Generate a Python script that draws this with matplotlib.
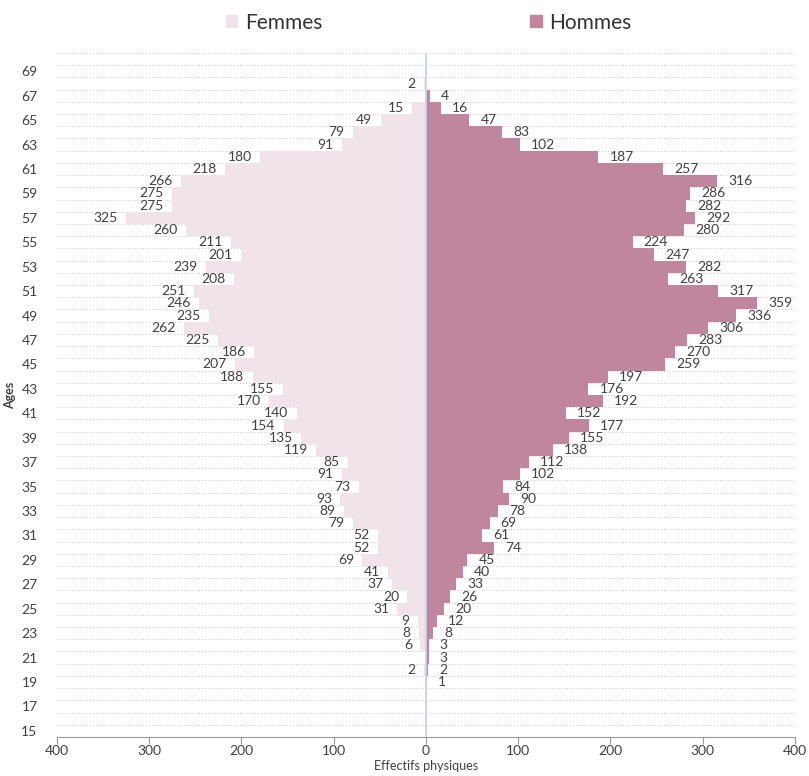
import numpy as np
import matplotlib
matplotlib.use("Agg")
import matplotlib.pyplot as plt
import matplotlib.patches as mpatches
from matplotlib.ticker import FixedLocator, FuncFormatter

plt.rcParams['font.family'] = ['Lato', 'DejaVu Sans']

ages = list(range(15, 70))

# headcount per age (0 = no bar)
femmes_by_age = {
    20: 2, 22: 6, 23: 8, 24: 9, 25: 31, 26: 20, 27: 37, 28: 41, 29: 69,
    30: 52, 31: 52, 32: 79, 33: 89, 34: 93, 35: 73, 36: 91, 37: 85,
    38: 119, 39: 135, 40: 154, 41: 140, 42: 170, 43: 155, 44: 188,
    45: 207, 46: 186, 47: 225, 48: 262, 49: 235, 50: 246, 51: 251,
    52: 208, 53: 239, 54: 201, 55: 211, 56: 260, 57: 325, 58: 275,
    59: 275, 60: 266, 61: 218, 62: 180, 63: 91, 64: 79, 65: 49,
    66: 15, 68: 2,
}
hommes_by_age = {
    19: 1, 20: 2, 21: 3, 22: 3, 23: 8, 24: 12, 25: 20, 26: 26, 27: 33,
    28: 40, 29: 45, 30: 74, 31: 61, 32: 69, 33: 78, 34: 90, 35: 84,
    36: 102, 37: 112, 38: 138, 39: 155, 40: 177, 41: 152, 42: 192,
    43: 176, 44: 197, 45: 259, 46: 270, 47: 283, 48: 306, 49: 336,
    50: 359, 51: 317, 52: 263, 53: 282, 54: 247, 55: 224, 56: 280,
    57: 292, 58: 282, 59: 286, 60: 316, 61: 257, 62: 187, 63: 102,
    64: 83, 65: 47, 66: 16, 67: 4,
}
femmes = np.array([femmes_by_age.get(a, 0) for a in ages])
hommes = np.array([hommes_by_age.get(a, 0) for a in ages])

c_f = '#F0E4EA'
c_h = '#C0869E'
txt = '#404040'

fig = plt.figure(figsize=(8.09, 7.76), dpi=100)
ax = fig.add_axes([0.0705, 0.0503, 0.912, 0.8814])

ax.barh(ages, -femmes, height=1.0, color=c_f, zorder=2)
ax.barh(ages, hommes, height=1.0, color=c_h, zorder=2)
ax.axvline(0, color='#c9d2ea', lw=1.3, zorder=3)

for a, f, h in zip(ages, femmes, hommes):
    if f > 0:
        ax.annotate(str(f), (-f, a), xytext=(-6, 0), textcoords='offset points',
                    ha='right', va='center', fontsize=10, color=txt, zorder=4)
    if h > 0:
        ax.annotate(str(h), (h, a), xytext=(8, 0), textcoords='offset points',
                    ha='left', va='center', fontsize=10, color=txt, zorder=4)

ax.set_xlim(-400, 400)
ax.set_ylim(14.5, 70.5)
ax.set_xticks(np.arange(-400, 401, 100))
ax.xaxis.set_major_formatter(FuncFormatter(lambda v, p: f"{abs(int(v))}"))
ax.set_yticks(np.arange(15, 70, 2))
ax.yaxis.set_minor_locator(FixedLocator(np.arange(15.5, 70.6, 1)))
ax.grid(which='minor', axis='y', color='#cfcfcf', linestyle=':', lw=0.8, zorder=0)
ax.tick_params(axis='y', which='both', length=0, labelsize=10, labelcolor=txt, pad=14)
ax.tick_params(axis='x', length=5, color='#999999', labelsize=10, labelcolor=txt, pad=1)

for s in ['top', 'right', 'left']:
    ax.spines[s].set_visible(False)
ax.spines['bottom'].set_color('#999999')

ax.set_xlabel("Effectifs physiques", fontsize=9, color=txt, labelpad=2)
ax.set_ylabel("Ages", fontsize=9, color=txt, fontweight='bold', labelpad=4)

handles = [mpatches.Patch(color=c_f, label='Femmes'),
           mpatches.Patch(color=c_h, label='Hommes')]
leg = fig.legend(handles=handles, loc='upper center', bbox_to_anchor=(0.53, 1.008),
                 ncol=2, frameon=False, fontsize=15, handlelength=0.55,
                 handleheight=0.55, handletextpad=0.35, columnspacing=10)
for t in leg.get_texts():
    t.set_color('#333333')

plt.savefig("out.png", dpi=100)
